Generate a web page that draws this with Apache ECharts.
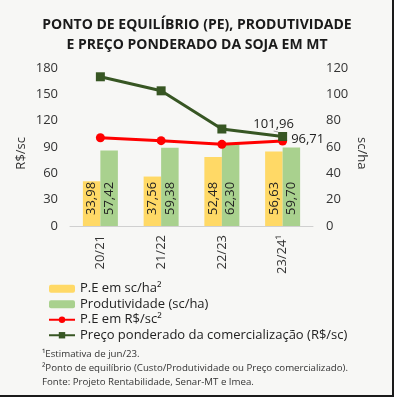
<!DOCTYPE html>
<html><head><meta charset="utf-8">
<script src="https://cdn.jsdelivr.net/npm/echarts@6/dist/echarts.min.js"></script>
<style>html,body{margin:0;padding:0;background:#f7f7f5}#c{width:394px;height:397px}</style>
</head><body><div id="c"></div>
<script>
const categories = ['20/21', '21/22', '22/23', '23/24¹'];
const peScHa = [33.98, 37.56, 52.48, 56.63];
const produtividade = [57.42, 59.38, 62.30, 59.70];
const peRsSc = [100.6, 97.2, 93.0, 96.71];
const precoPonderado = [170, 154, 110.5, 101.96];
const leftTicks = {min: 0, max: 180, interval: 30};
const rightTicks = {min: 0, max: 120, interval: 20};

const FONT = '"Open Sans", sans-serif';
const fmt = v => Number(v).toFixed(2).replace('.', ',');
const chart = echarts.init(document.getElementById('c'));
const lastIdx = categories.length - 1;

chart.setOption({
  backgroundColor: '#f7f7f5',
  animation: false,
  textStyle: {fontFamily: FONT},
  title: {
    text: 'PONTO DE EQUILÍBRIO (PE), PRODUTIVIDADE\nE PREÇO PONDERADO DA SOJA EM MT',
    left: 'center', top: 10,
    textStyle: {fontFamily: FONT, fontSize: 14, fontWeight: 'bold', color: '#1a1a1a', lineHeight: 20}
  },
  grid: {left: 70, right: 81, top: 68, bottom: 171},
  legend: {
    orient: 'vertical', left: 43, top: 277, itemGap: 2, itemTextGap: 4,
    itemWidth: 26, itemHeight: 8,
    textStyle: {fontFamily: FONT, fontSize: 13, color: '#222', lineHeight: 13.5},
    data: ['P.E em sc/ha²', 'Produtividade (sc/ha)', 'P.E em R$/sc²', 'Preço ponderado da comercialização (R$/sc)']
  },
  xAxis: {
    type: 'category', data: categories,
    axisLine: {lineStyle: {color: '#d0d0d0'}},
    axisTick: {show: false},
    axisLabel: {rotate: 90, margin: 9, fontSize: 13, color: '#333', fontFamily: FONT}
  },
  yAxis: [
    {type: 'value', min: leftTicks.min, max: leftTicks.max, interval: leftTicks.interval,
     splitLine: {show: false}, axisLine: {show: false}, axisTick: {show: false},
     axisLabel: {margin: 12, fontSize: 13, color: '#333', fontFamily: FONT}},
    {type: 'value', min: rightTicks.min, max: rightTicks.max, interval: rightTicks.interval,
     splitLine: {show: false}, axisLine: {show: false}, axisTick: {show: false},
     axisLabel: {margin: 13, fontSize: 13, color: '#333', fontFamily: FONT}}
  ],
  series: [
    {name: 'P.E em sc/ha²', type: 'bar', yAxisIndex: 1, data: peScHa,
     barWidth: 17.5, barGap: '0%', itemStyle: {color: '#ffd966'},
     label: {show: true, position: 'insideBottom', rotate: 90, align: 'left', verticalAlign: 'middle',
             distance: 11, fontSize: 13, color: '#222', fontFamily: FONT, formatter: p => fmt(p.value)}},
    {name: 'Produtividade (sc/ha)', type: 'bar', yAxisIndex: 1, data: produtividade,
     barWidth: 17.5, barGap: '0%', itemStyle: {color: '#a9d18e'},
     label: {show: true, position: 'insideBottom', rotate: 90, align: 'left', verticalAlign: 'middle',
             distance: 11, fontSize: 13, color: '#222', fontFamily: FONT, formatter: p => fmt(p.value)}},
    {name: 'P.E em R$/sc²', type: 'line', yAxisIndex: 0, data: peRsSc.map((v, i) => i === lastIdx ? {value: v, label: {show: true}} : v),
     lineStyle: {color: '#ff0000', width: 3}, itemStyle: {color: '#ff0000'},
     symbol: 'circle', symbolSize: 9, z: 5,
     label: {show: false, position: 'right', distance: 4, offset: [0, -2], fontSize: 13, color: '#222', fontFamily: FONT, formatter: p => fmt(p.value)}},
    {name: 'Preço ponderado da comercialização (R$/sc)', type: 'line', yAxisIndex: 0,
     data: precoPonderado.map((v, i) => i === lastIdx ? {value: v, label: {show: true}} : v),
     lineStyle: {color: '#375623', width: 3}, itemStyle: {color: '#375623'},
     symbol: 'rect', symbolSize: 9, z: 6,
     label: {show: false, position: 'top', distance: 4, fontSize: 13, color: '#222', fontFamily: FONT, formatter: p => fmt(p.value)},
     labelLine: {show: true, lineStyle: {color: '#a6a6a6', width: 1}},
     labelLayout: {dx: -9, dy: 3}}
  ],
  graphic: [
    {type: 'text', left: 15, top: 137, rotation: Math.PI / 2,
     style: {text: 'R$/sc', fontSize: 13, fill: '#333', fontFamily: FONT}},
    {type: 'text', left: 355, top: 137, rotation: -Math.PI / 2,
     style: {text: 'sc/ha', fontSize: 13, fill: '#333', fontFamily: FONT}},
    {type: 'text', left: 42, top: 347,
     style: {text: '¹Estimativa de jun/23.\n²Ponto de equilíbrio (Custo/Produtividade ou Preço comercializado).\nFonte: Projeto Rentabilidade, Senar-MT e Imea.',
             fontSize: 9.7, lineHeight: 14, fill: '#333', fontFamily: FONT}},
    {type: 'rect', shape: {x: 392, y: 0, width: 2, height: 397}, style: {fill: '#1a1a1a'}},
    {type: 'rect', shape: {x: 0, y: 395, width: 394, height: 2}, style: {fill: '#1a1a1a'}}
  ]
});
</script></body></html>
